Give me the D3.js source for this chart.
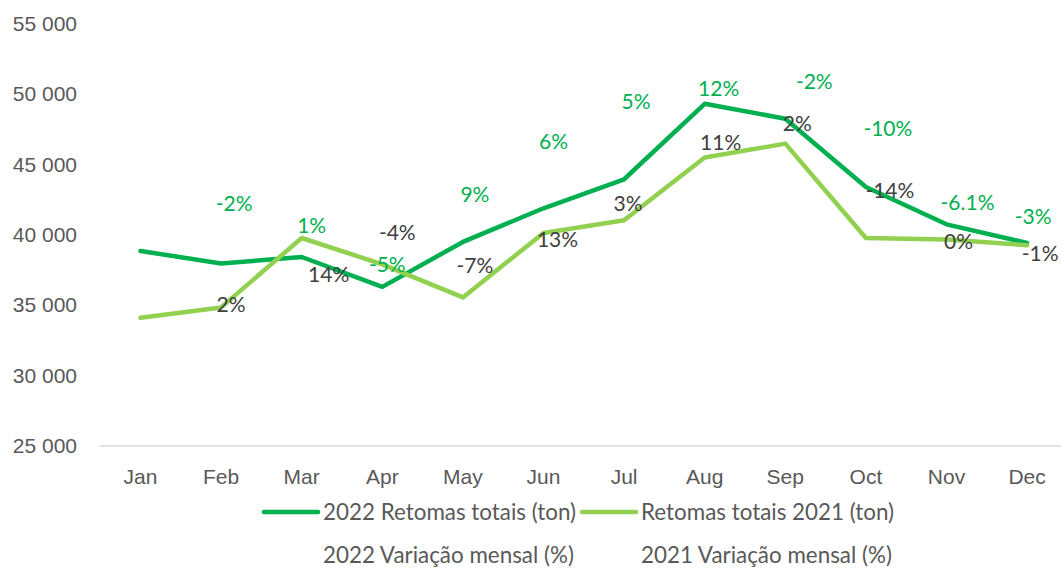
<!DOCTYPE html>
<html>
<head>
<meta charset="utf-8">
<script src="https://cdn.jsdelivr.net/npm/d3@7.9.0/dist/d3.min.js"></script>
<style>
  body { margin: 0; background: #fff; }
  svg { display: block; font-family: Lato, "Liberation Sans", sans-serif; }
  .axis text { fill: #595959; font-size: 21px; }
  .lbl { font-size: 21px; }
  .legend text { fill: #595959; font-size: 22.4px; }
</style>
</head>
<body>
<svg id="chart" width="1061" height="568"></svg>
<script>
// data
const months = ['Jan', 'Feb', 'Mar', 'Apr', 'May', 'Jun', 'Jul', 'Aug', 'Sep', 'Oct', 'Nov', 'Dec'];
const retomas2022 = [38850, 37960, 38420, 36300, 39490, 41880, 43940, 49300, 48240, 43390, 40740, 39420];
const retomas2021 = [34100, 34840, 39770, 37900, 35550, 40130, 41030, 45480, 46470, 39770, 39660, 39260];
const variacao2022 = [null, '-2%', '1%', '-5%', '9%', '6%', '5%', '12%', '-2%', '-10%', '-6.1%', '-3%'];
const variacao2021 = [null, '2%', '14%', '-4%', '-7%', '13%', '3%', '11%', '2%', '-14%', '0%', '-1%'];
const yTicks = [25000, 30000, 35000, 40000, 45000, 50000, 55000];
const seriesNames = ['2022 Retomas totais (ton)', 'Retomas totais 2021 (ton)', '2022 Variação mensal (%)', '2021 Variação mensal (%)'];

// manual label nudges (dx, dy) from the line point, like dragged excel labels
const nudge2022 = [null, [13, -60], [10, -31], [5, -22], [12, -47], [10, -67], [12, -78], [14, -15], [29, -37], [22, -58], [21, -22], [6, -26]];
const nudge2021 = [null, [10, -3], [27, 37], [15, -32], [12, -32], [14, 7], [4, -17], [16, -15], [12, -20], [24, -47], [12, 2], [13, 8]];

const dark = '#00b050';
const light = '#92d050';

const svg = d3.select('#chart');

let x = d3.scaleBand().domain(months).range([100.2, 1067.4]).padding(0);
let cx = (m) => x(m) + x.bandwidth() / 2;
let y = d3.scaleLinear().domain([25000, 55000]).range([446, 23.5]);

const fmt = d3.formatLocale({ decimal: ',', thousands: ' ', grouping: [3], currency: ['', ''] }).format(',');

// baseline gridline
svg.append('line')
  .attr('x1', 100).attr('x2', 1061)
  .attr('y1', y(25000)).attr('y2', y(25000))
  .attr('stroke', '#d9d9d9').attr('stroke-width', 1.5);

let yAxis = svg.append('g')
  .attr('class', 'axis')
  .attr('transform', 'translate(100,0)')
  .call(d3.axisLeft(y).tickValues(yTicks).tickFormat(fmt).tickSize(0).tickPadding(23));
yAxis.select('.domain').remove();

let xAxis = svg.append('g')
  .attr('class', 'axis')
  .attr('transform', `translate(0,${y(25000)})`)
  .call(d3.axisBottom(x).tickSize(0).tickPadding(23));
xAxis.select('.domain').remove();

let line = d3.line()
  .x((d, i) => cx(months[i]))
  .y((d) => y(d));

svg.append('path')
  .attr('d', line(retomas2022))
  .attr('fill', 'none')
  .attr('stroke', dark)
  .attr('stroke-width', 4.5)
  .attr('stroke-linejoin', 'round')
  .attr('stroke-linecap', 'round');

svg.append('path')
  .attr('d', line(retomas2021))
  .attr('fill', 'none')
  .attr('stroke', light)
  .attr('stroke-width', 4.5)
  .attr('stroke-linejoin', 'round')
  .attr('stroke-linecap', 'round');

// variation labels
function addLabels(texts, values, nudges, color) {
  texts.forEach((t, i) => {
    if (t === null) return;
    svg.append('text')
      .attr('class', 'lbl')
      .attr('x', cx(months[i]) + nudges[i][0])
      .attr('y', y(values[i]) + nudges[i][1])
      .attr('dy', '0.35em')
      .attr('text-anchor', 'middle')
      .attr('fill', color)
      .text(t);
  });
}
addLabels(variacao2022, retomas2022, nudge2022, dark);
addLabels(variacao2021, retomas2021, nudge2021, '#404040');

// legend
let legend = svg.append('g').attr('class', 'legend');
let legendColors = [dark, light, null, null];
seriesNames.forEach((name, i) => {
  let gx = 264 + (i % 2) * 318;
  let gy = 512 + Math.floor(i / 2) * 43;
  if (legendColors[i]) {
    legend.append('line')
      .attr('x1', gx).attr('x2', gx + 54)
      .attr('y1', gy).attr('y2', gy)
      .attr('stroke', legendColors[i])
      .attr('stroke-width', 4.5)
      .attr('stroke-linecap', 'round');
  }
  legend.append('text')
    .attr('x', gx + 59)
    .attr('y', gy)
    .attr('dy', '0.35em')
    .text(name);
});
</script>
</body>
</html>
